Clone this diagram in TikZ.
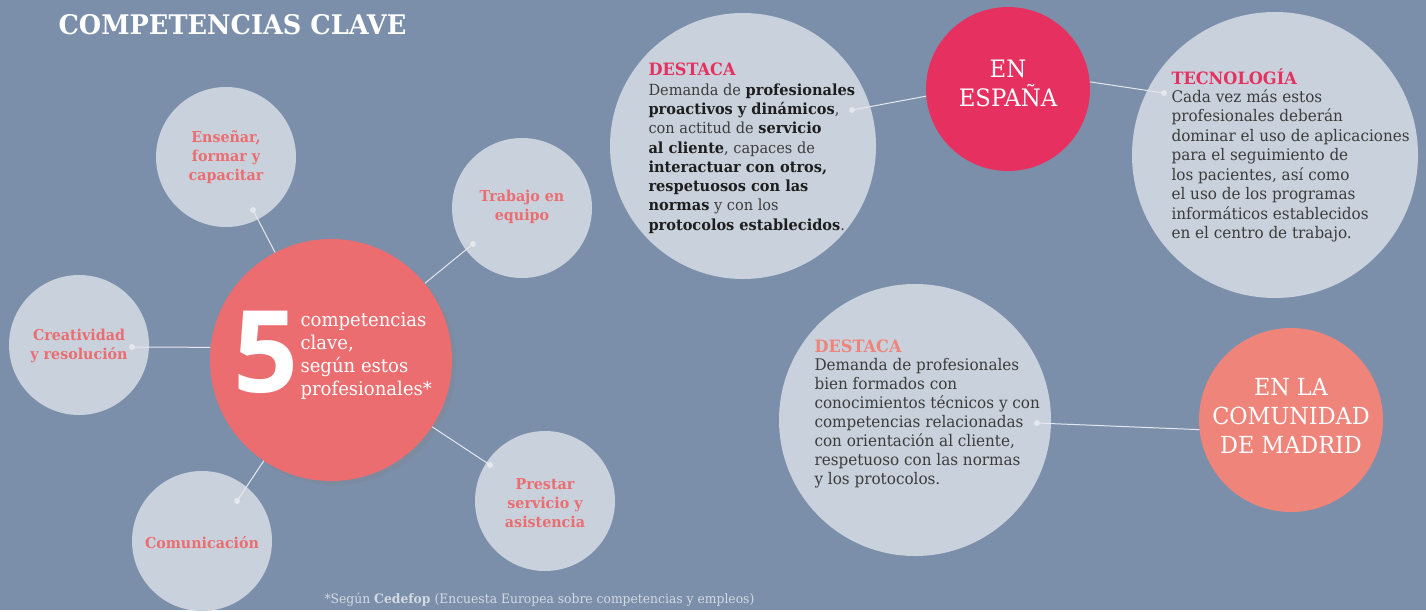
\documentclass[tikz,border=0pt]{standalone}
\usepackage{fontspec}
\setmainfont{DejaVu Serif}[FakeStretch=0.95]
\newfontfamily\numfont{Open Sans}
\usetikzlibrary{shadows}
\definecolor{bgblue}{HTML}{7B8FAA}
\definecolor{cloud}{HTML}{C9D1DC}
\definecolor{coral}{HTML}{EB6D70}
\definecolor{crimson}{HTML}{E6305F}
\definecolor{salmon}{HTML}{EF847A}
\definecolor{ink}{HTML}{1E1E1E}
\definecolor{softink}{HTML}{3C3C3C}
\definecolor{wire}{HTML}{E4E8EE}
\definecolor{footgray}{HTML}{D3D9E2}
\newcommand{\fs}[2]{\fontsize{#1}{#2}\selectfont}

\begin{document}
\begin{tikzpicture}[x=1pt,y=-1pt,
    bubble/.style={circle,fill=cloud,inner sep=0pt},
    skill/.style={align=center,text=coral,font=\fs{15}{19}\bfseries},
    link/.style={draw=wire,line width=1pt},
    blurb/.style={anchor=north west,align=left,text=softink,font=\fs{15.3}{19.3}}]
    \fill[bgblue] (0,0) rectangle (1426,610);
    \node[anchor=west,text=white,font=\fs{27}{30}\bfseries] (title) at (55,25) {COMPETENCIAS CLAVE};
    % competencias alrededor
    \node[bubble,minimum size=140pt] (ense) at (226,157) {};
    \node[bubble,minimum size=140pt] (trab) at (522,208) {};
    \node[bubble,minimum size=140pt] (crea) at (79,345) {};
    \node[bubble,minimum size=140pt] (comu) at (202,541) {};
    \node[bubble,minimum size=140pt] (pres) at (545,501) {};
    \node[skill] (enseTxt) at (226,157) {Enseñar,\\formar y\\capacitar};
    \node[skill] (trabTxt) at (522,207) {Trabajo en\\equipo};
    \node[skill] (creaTxt) at (79,346) {Creatividad\\y resolución};
    \node[skill] (comuTxt) at (202,543) {Comunicación};
    \node[skill] (presTxt) at (545,503) {Prestar\\servicio y\\asistencia};
    \coordinate (enseDot) at (253,210);
    \coordinate (trabDot) at (473,244);
    \coordinate (creaDot) at (132,347);
    \coordinate (comuDot) at (237,501);
    \coordinate (presDot) at (490,465);
    % circulo central
    \node[circle,fill=coral,minimum size=242pt,inner sep=0pt,
        drop shadow={shadow xshift=4pt,shadow yshift=-4pt,opacity=0.25}] (main) at (331,360) {};
    \draw[link] (enseDot) -- (main);
    \draw[link] (trabDot) -- (main);
    \draw[link] (creaDot) -- (main.174);
    \draw[link] (comuDot) -- (main);
    \draw[link] (presDot) -- (main);
    \foreach \d in {enseDot,trabDot,creaDot,comuDot,presDot}
        \fill[wire] (\d) circle (3pt);
    \node[text=white,font=\numfont\bfseries\fs{114}{114}] (five) at (266,352) {5};
    \node[anchor=west,align=left,text=white,font=\fs{19}{22.7}] (mainTxt) at (297,356)
        {competencias\\clave,\\según estos\\profesionales*};
    % España
    \node[bubble,minimum size=266pt] (dest) at (743,146) {};
    \node[circle,fill=crimson,minimum size=164pt,inner sep=0pt] (espana) at (1008,89) {};
    \node[align=center,text=white,font=\fs{24}{29}] (espanaTxt) at (1008,83) {EN\\ESPAÑA};
    \node[bubble,minimum size=286pt] (tecn) at (1275,155) {};
    \node[blurb,text=crimson,font=\fs{17}{19}\bfseries] (destHead) at (645,59) {DESTACA};
    \node[blurb] (destTxt) at (645,80) {Demanda de \textcolor{ink}{\bfseries profesionales}\\
        \textcolor{ink}{\bfseries proactivos y dinámicos},\\
        con actitud de \textcolor{ink}{\bfseries servicio}\\
        \textcolor{ink}{\bfseries al cliente}, capaces de\\
        \textcolor{ink}{\bfseries interactuar con otros,}\\
        \textcolor{ink}{\bfseries respetuosos con las}\\
        \textcolor{ink}{\bfseries normas} y con los\\
        \textcolor{ink}{\bfseries protocolos establecidos}.};
    \node[blurb,text=crimson,font=\fs{17}{19}\bfseries] (tecnHead) at (1168,65) {TECNOLOGÍA};
    \node[blurb,font=\fs{16}{19.5}] (tecnTxt) at (1168,86) {Cada vez más estos\\
        profesionales deberán\\
        dominar el uso de aplicaciones\\
        para el seguimiento de\\
        los pacientes, así como\\
        el uso de los programas\\
        informáticos establecidos\\
        en el centro de trabajo.};
    \coordinate (destDot) at (852,110);
    \coordinate (tecnDot) at (1164,93);
    \draw[link] (destDot) -- (espana.185);
    \draw[link] (tecnDot) -- (espana.5);
    \fill[wire] (destDot) circle (3pt);
    \fill[wire] (tecnDot) circle (3pt);
    % Comunidad de Madrid
    \node[bubble,minimum size=272pt] (dest2) at (915,420) {};
    \node[circle,fill=salmon,minimum size=184pt,inner sep=0pt] (madrid) at (1291,420) {};
    \node[align=center,text=white,font=\fs{23.5}{29}] (madridTxt) at (1291,416) {EN LA\\COMUNIDAD\\DE MADRID};
    \node[blurb,text=salmon,font=\fs{17}{19}\bfseries] (dest2Head) at (811,336) {DESTACA};
    \node[blurb,font=\fs{16}{19}] (dest2Txt) at (811,355) {Demanda de profesionales\\
        bien formados con\\
        conocimientos técnicos y con\\
        competencias relacionadas\\
        con orientación al cliente,\\
        respetuoso con las normas\\
        y los protocolos.};
    \coordinate (dest2Dot) at (1037,423);
    \draw[link] (dest2Dot) -- (madrid.186);
    \fill[wire] (dest2Dot) circle (3pt);
    % nota
    \node[anchor=west,text=footgray,font=\fs{13}{14}] (nota) at (321,600)
        {*Según \textbf{Cedefop} (Encuesta Europea sobre competencias y empleos)};
\end{tikzpicture}
\end{document}
